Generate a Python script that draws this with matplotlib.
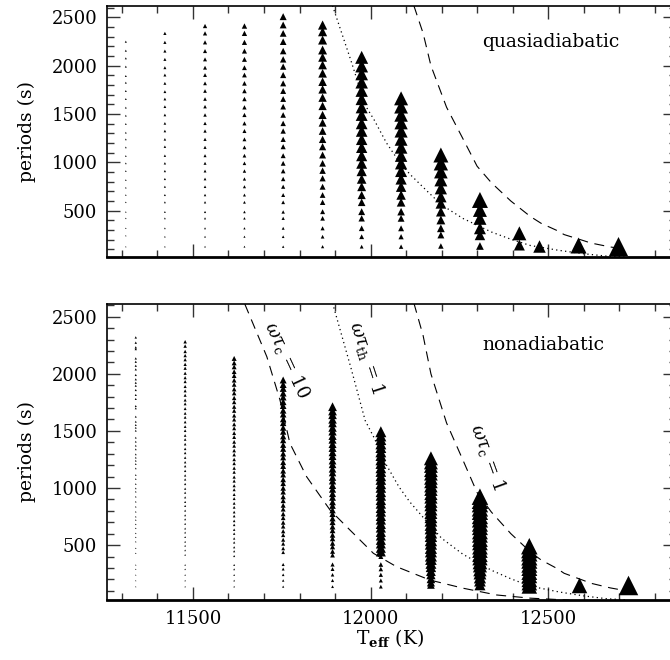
import numpy as np
import matplotlib
matplotlib.use("Agg")
import matplotlib.pyplot as plt
from matplotlib.ticker import MultipleLocator, FixedLocator, NullFormatter

plt.rcParams['font.family'] = ['DejaVu Serif']
plt.rcParams['mathtext.fontset'] = 'dejavuserif'

# ---------------- data ----------------
# quasiadiabatic models: effective temperatures (K) and mode periods (s)
quasi_teff = [11311, 11421, 11534, 11645, 11754, 11865, 11975,
              12086, 12198, 12308, 12419, 12475, 12585, 12697]
quasi_periods = [
    [2248, 2155, 2076, 1990, 1893, 1824, 1738, 1655, 1566, 1483, 1397, 1307, 1238,
     1155, 1066, 990, 910, 817, 738, 662, 587, 487, 421, 318, 242, 128],
    [2334, 2241, 2151, 2065, 1979, 1903, 1817, 1731, 1655, 1576, 1490, 1403, 1324,
     1238, 1162, 1069, 990, 910, 828, 748, 662, 587, 487, 421, 318, 231, 128],
    [2410, 2334, 2241, 2151, 2065, 1979, 1903, 1817, 1738, 1655, 1576, 1490, 1403,
     1324, 1238, 1155, 1069, 990, 910, 828, 748, 662, 587, 487, 421, 318, 231, 128],
    [2410, 2334, 2241, 2151, 2065, 1979, 1903, 1817, 1738, 1655, 1569, 1490, 1403,
     1324, 1238, 1155, 1069, 990, 910, 828, 748, 662, 587, 487, 421, 318, 231, 128],
    [2507, 2421, 2334, 2248, 2151, 2065, 1990, 1903, 1817, 1738, 1655, 1576, 1490,
     1403, 1324, 1238, 1162, 1069, 990, 910, 828, 748, 662, 587, 487, 421, 318, 231, 128],
    [2420, 2351, 2265, 2162, 2086, 2007, 1921, 1834, 1755, 1669, 1583, 1490, 1410,
     1324, 1238, 1162, 1076, 990, 914, 835, 748, 662, 587, 490, 421, 318, 231, 128],
    [2086, 1996, 1914, 1828, 1741, 1655, 1569, 1490, 1403, 1324, 1238, 1155, 1069,
     990, 910, 828, 748, 662, 587, 490, 421, 318, 231, 128],
    [1662, 1576, 1490, 1410, 1324, 1238, 1155, 1069, 990, 910, 828, 748, 662, 587,
     490, 421, 318, 231, 128],
    [1076, 990, 904, 818, 732, 645, 576, 490, 404, 318, 249, 135],
    [611, 508, 421, 318, 249, 135],
    [266, 145],
    [135],
    [145],
    [135],
]

# nonadiabatic models
nonad_teff = [11339, 11478, 11616, 11754, 11893, 12029, 12170, 12308, 12447, 12587, 12725]
nonad_periods = [
    [2319, 2273, 2232, 2217, 2135, 2106, 2071, 2039, 1990, 1952, 1922, 1896, 1858,
     1815, 1780, 1718, 1698, 1625, 1581, 1552, 1528, 1502, 1441, 1406, 1371, 1339,
     1295, 1266, 1239, 1210, 1172, 1114, 1079, 1035, 997, 968, 924, 880, 836, 792,
     749, 720, 682, 647, 603, 568, 530, 472, 428, 326, 288, 238, 189, 136],
    [2281, 2243, 2196, 2160, 2124, 2083, 2049, 2005, 1966, 1932, 1889, 1851, 1812,
     1770, 1737, 1695, 1654, 1619, 1578, 1538, 1502, 1460, 1425, 1384, 1343, 1307,
     1266, 1226, 1191, 1150, 1110, 1075, 1035, 994, 959, 918, 878, 843, 802, 761,
     726, 686, 645, 610, 570, 529, 494, 454, 414, 326, 288, 238, 189, 136],
    [2135, 2096, 2061, 2019, 1984, 1944, 1907, 1866, 1831, 1789, 1753, 1712, 1677,
     1635, 1600, 1558, 1523, 1481, 1446, 1404, 1369, 1328, 1292, 1250, 1215, 1174,
     1139, 1096, 1061, 1020, 985, 943, 907, 866, 831, 789, 754, 712, 677, 635,
     600, 558, 523, 481, 446, 404, 326, 288, 238, 189, 136],
    [1946, 1906, 1872, 1831, 1796, 1755, 1721, 1680, 1646, 1604, 1570, 1529, 1494,
     1453, 1419, 1378, 1343, 1302, 1268, 1226, 1192, 1151, 1117, 1075, 1041, 1000,
     966, 924, 890, 849, 815, 773, 739, 698, 664, 622, 588, 547, 512, 471, 437,
     330, 290, 240, 190, 136],
    [1712, 1674, 1641, 1601, 1569, 1529, 1496, 1457, 1424, 1385, 1351, 1313, 1279,
     1240, 1207, 1168, 1135, 1095, 1063, 1023, 990, 951, 918, 878, 846, 806, 773,
     734, 701, 662, 629, 589, 557, 517, 485, 445, 412, 330, 290, 240, 190, 136],
    [1493, 1456, 1424, 1386, 1354, 1316, 1284, 1246, 1214, 1176, 1144, 1106, 1074,
     1036, 1004, 966, 934, 896, 864, 826, 794, 756, 724, 686, 654, 616, 584, 546,
     514, 476, 444, 400, 330, 290, 240, 190, 136],
    [1260, 1224, 1193, 1156, 1125, 1088, 1057, 1020, 989, 952, 921, 884, 853, 816,
     785, 748, 717, 680, 649, 612, 581, 544, 513, 476, 445, 408, 377, 340, 309,
     272, 241, 204, 173, 151],
    [924, 888, 858, 821, 791, 754, 724, 687, 657, 620, 590, 553, 523, 486, 456,
     419, 389, 352, 322, 285, 255, 218, 188, 152],
    [490, 456, 427, 392, 363, 328, 299, 264, 235, 200, 171, 142],
    [150],
    [150],
]

# boundary curves (Teff, period)
th1_teff = [11893, 11945, 11985, 12010, 12045, 12080, 12110, 12160, 12200, 12260,
            12340, 12395, 12450, 12530, 12600, 12665, 12725]
th1_per = [2620, 2050, 1590, 1440, 1200, 1010, 880, 700, 560, 420,
           280, 205, 140, 90, 55, 30, 20]

c1_teff = [12122, 12148, 12170, 12214, 12261, 12300, 12340, 12395, 12450, 12480,
           12525, 12545, 12600, 12620, 12675, 12705]
c1_per = [2620, 2335, 2000, 1570, 1238, 960, 790, 600, 440, 370,
          295, 253, 190, 166, 125, 108]

c10_teff = [11646, 11708, 11745, 11773, 11820, 11886, 11942, 12008, 12073, 12167,
            12261, 12355, 12450, 12560]
c10_per = [2611, 2150, 1771, 1391, 1099, 807, 632, 428, 311, 194, 122, 63, 35, 18]

# ---------------- marker sizes (triangle width in pixels vs period) ----------------
quasi_size_p = [[128, 1000, 2250], [128, 1000, 2334], [128, 1000, 2410], [128, 1000, 2410],
                [128, 1000, 2507], [128, 600, 1500, 2420], [128, 300, 600, 1000, 2086],
                [128, 400, 600, 900, 1662], [135, 400, 700, 1076],
                [135, 250, 320, 421, 508, 611], [145, 266], [135], [145], [135]]
quasi_size_w = [[1.3, 1.7, 2.1], [1.5, 2.4, 3.2], [1.7, 3.0, 4.3], [1.9, 3.6, 5.4],
                [2.4, 4.9, 7.0], [3.2, 5.5, 8.2, 9.2], [3.8, 5.5, 7.7, 11.0, 13.0],
                [4.4, 6.6, 8.8, 12.0, 14.0], [5.5, 8.8, 12.0, 15.0],
                [7.7, 10.5, 12.0, 13.0, 14.0, 16.0], [11.0, 14.0], [12.5], [16.0], [19.0]]

nonad_size_p = [[136, 1000, 2325], [136, 1000, 2281], [136, 1000, 2135],
                [136, 500, 1000, 1946], [136, 450, 1000, 1712],
                [136, 400, 440, 1493], [150, 400, 1260], [150, 400, 924],
                [140, 490], [150], [150]]
nonad_size_w = [[1.2, 1.6, 2.4], [1.4, 2.2, 3.5], [1.6, 3.1, 5.0],
                [2.2, 3.9, 5.5, 7.0], [2.8, 5.0, 7.2, 8.8],
                [3.8, 5.0, 10.0, 11.0], [7.7, 12.0, 14.0], [11.0, 15.5, 16.5],
                [15.5, 16.5], [15.5], [19.5]]

# ---------------- layout ----------------
W, H = 670, 660
fig = plt.figure(figsize=(W / 100, H / 100), dpi=100)

X_LEFT, X_RIGHT = 107, 676
T_LEFT, T_RIGHT = 11258, 12860


def axes_px(top, bottom):
    return fig.add_axes([X_LEFT / W, 1 - bottom / H, (X_RIGHT - X_LEFT) / W, (bottom - top) / H])


ax_top = axes_px(6, 257.3)
ax_bot = axes_px(304.3, 600)


def width_to_s(w_px):
    w_pt = np.asarray(w_px) * 72.0 / 100.0
    return w_pt ** 2


def draw_columns(ax, teffs, periods, size_p, size_w):
    for t, per, sp, sw in zip(teffs, periods, size_p, size_w):
        per = np.asarray(per, dtype=float)
        if len(sp) == 1:
            w = np.full(per.shape, sw[0])
        else:
            w = np.interp(per, sp, sw)
        ax.scatter(np.full(per.shape, t), per, s=width_to_s(w), marker='^',
                   c='k', linewidths=0, zorder=3)


draw_columns(ax_top, quasi_teff, quasi_periods, quasi_size_p, quasi_size_w)
draw_columns(ax_bot, nonad_teff, nonad_periods, nonad_size_p, nonad_size_w)

dash = (0, (9, 6))
dot = (0, (1, 2.6))
for ax in (ax_top, ax_bot):
    ax.plot(th1_teff, th1_per, color='k', lw=0.9, ls=dot, zorder=2)
    ax.plot(c1_teff, c1_per, color='k', lw=0.8, ls=dash, zorder=2)
ax_bot.plot(c10_teff, c10_per, color='k', lw=0.8, ls=dash, zorder=2)

# ---------------- axes styling ----------------
for ax, ylim in ((ax_top, (18, 2617)), (ax_bot, (19, 2609))):
    ax.set_xlim(T_LEFT, T_RIGHT)
    ax.set_ylim(*ylim)
    ax.xaxis.set_major_locator(FixedLocator([11500, 12000, 12500]))
    ax.xaxis.set_minor_locator(MultipleLocator(100))
    ax.yaxis.set_major_locator(FixedLocator([500, 1000, 1500, 2000, 2500]))
    ax.yaxis.set_minor_locator(MultipleLocator(100))
    ax.tick_params(which='both', direction='in', top=True, right=True,
                   width=1.0, color='#333333', labelsize=13)
    ax.tick_params(which='major', length=9.5, pad=7)
    ax.tick_params(which='minor', length=4.8)
    for side in ('left', 'top', 'right'):
        ax.spines[side].set_linewidth(1.2)
    ax.spines['bottom'].set_linewidth(2.0)
    ax.set_facecolor('none')

ax_top.xaxis.set_major_formatter(NullFormatter())

ax_top.text(0.659, 0.857, 'quasiadiabatic', transform=ax_top.transAxes,
            ha='left', va='center', fontsize=13.5)
ax_bot.text(0.659, 0.862, 'nonadiabatic', transform=ax_bot.transAxes,
            ha='left', va='center', fontsize=13.5)

ax_bot.text(11765, 2121, r'$\omega\tau_{\rm c}$ = 10', rotation=-65,
            ha='center', va='center', rotation_mode='anchor', fontsize=13)
ax_bot.text(11989, 2138, r'$\omega\tau_{\rm th}$ = 1', rotation=-72,
            ha='center', va='center', rotation_mode='anchor', fontsize=13)
ax_bot.text(12330, 1271, r'$\omega\tau_{\rm c}$ = 1', rotation=-70,
            ha='center', va='center', rotation_mode='anchor', fontsize=13)

fig.text(27 / W, 1 - 131.5 / H, 'periods (s)', rotation=90, ha='center', va='center',
         fontsize=13.5)
fig.text(27 / W, 1 - 452 / H, 'periods (s)', rotation=90, ha='center', va='center',
         fontsize=13.5)
fig.text(390 / W, 1 - 638 / H, r'T$_{\mathbf{eff}}$ (K)', ha='center', va='center',
         fontsize=13.5)

fig.savefig('out.png', dpi=100)
